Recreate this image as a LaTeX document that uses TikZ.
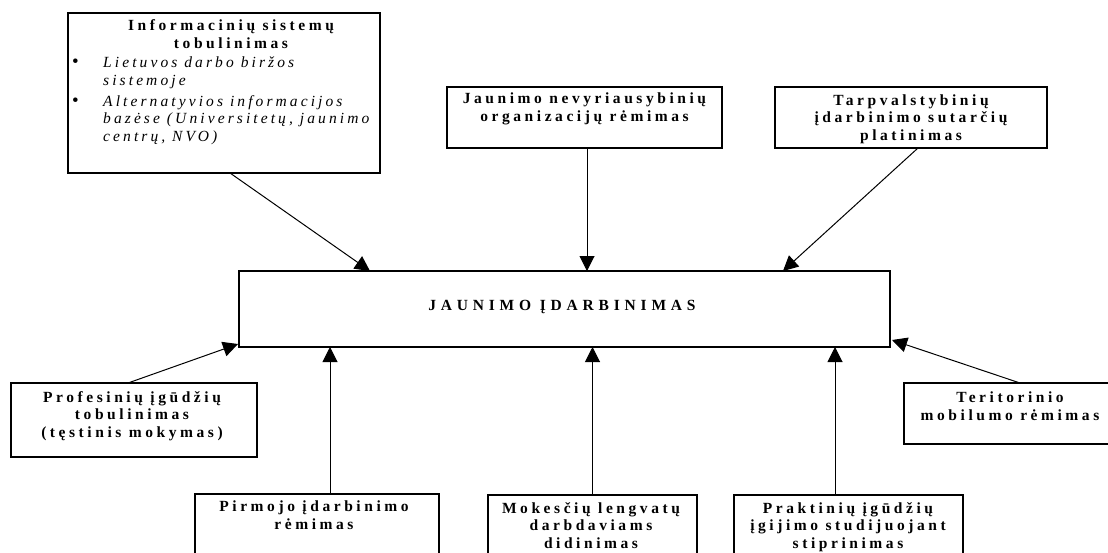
\documentclass[tikz,border=0pt]{standalone}
\usepackage{fontspec}
\setmainfont{Liberation Serif}
% letter-spaced faces used for all box texts
\newfontfamily\boxfont[LetterSpace=23]{Liberation Serif}
\newfontfamily\listfont[LetterSpace=20]{Liberation Serif}
\newfontfamily\widefont[LetterSpace=31]{Liberation Serif}
\usetikzlibrary{arrows.meta}

\begin{document}
\begin{tikzpicture}[x=1pt,y=-1pt,
  frame/.style={draw, line width=1.2pt, anchor=north west, inner sep=0pt, outer sep=0pt},
  caption/.style={anchor=base, align=center, inner sep=0pt,
    font=\boxfont\bfseries\fontsize{15.5}{17.5}\selectfont},
  link/.style={line width=1pt, -{Triangle[length=15pt,width=15pt]}},
]
\useasboundingbox (0,0) rectangle (1108,552);
\clip (0,0) rectangle (1108,552);

% frames
\node[frame, minimum width=312pt, minimum height=160pt] (info) at (68,13) {};
\node[frame, minimum width=275pt, minimum height=61pt] (ngo) at (447,87) {};
\node[frame, minimum width=272pt, minimum height=61pt] (treaty) at (775,87) {};
\node[frame, minimum width=651pt, minimum height=76pt] (main) at (239,271) {};
\node[frame, minimum width=246pt, minimum height=74pt] (prof) at (11,383) {};
\node[frame, minimum width=212pt, minimum height=61pt] (terr) at (904,383) {};
\node[frame, minimum width=244pt, minimum height=80pt] (first) at (195,494) {};
\node[frame, minimum width=209pt, minimum height=80pt] (tax) at (488,495) {};
\node[frame, minimum width=229pt, minimum height=80pt] (practice) at (734,495) {};

% texts (each placed by the baseline of its last line)
\node[caption] (infoT) at (231,48) {Informacinių sistemų\\ tobulinimas};
\node[anchor=base west, align=left, inner sep=0pt,
      font=\listfont\itshape\fontsize{15.5}{17.5}\selectfont] (infoL) at (103,141)
  {\llap{\makebox[31pt][l]{\upshape\fontsize{19}{17.5}\selectfont•}}Lietuvos darbo biržos\\
   sistemoje\\[3.5pt]
   \llap{\makebox[31pt][l]{\upshape\fontsize{19}{17.5}\selectfont•}}Alternatyvios informacijos\\
   bazėse (Universitetų, jaunimo\\
   centrų, NVO)};
\node[caption] (ngoT) at (584.5,121) {Jaunimo nevyriausybinių\\ organizacijų rėmimas};
\node[caption] (treatyT) at (911,140) {Tarpvalstybinių\\ įdarbinimo sutarčių\\ platinimas};
\node[caption, font=\widefont\bfseries\fontsize{15.5}{17.5}\selectfont] (mainT) at (562,310) {JAUNIMO ĮDARBINIMAS};
\node[caption] (profT) at (132,437) {Profesinių įgūdžių\\ tobulinimas\\ (tęstinis mokymas)};
\node[caption] (terrT) at (1010,420) {Teritorinio\\ mobilumo rėmimas};
\node[caption] (firstT) at (314,529) {Pirmojo įdarbinimo\\ rėmimas};
\node[caption] (taxT) at (591,548) {Mokesčių lengvatų\\ darbdaviams\\ didinimas};
\node[caption] (practiceT) at (848,548) {Praktinių įgūdžių\\ įgijimo studijuojant\\ stiprinimas};

% connectors into the central box
\draw[link] ([xshift=162pt]info.south west) -- ([xshift=131pt]main.north west);
\draw[link] ([xshift=2.5pt]ngo.south) -- ([xshift=2.5pt]ngo.south |- main.north);
\draw[link] ([xshift=143pt]treaty.south west) -- ([xshift=-107pt]main.north east);
\draw[link] ([xshift=117pt]prof.north west) -- ([xshift=-1pt,yshift=3pt]main.south west);
\draw[link] ([xshift=116pt]terr.north west) -- ([xshift=2pt,yshift=7pt]main.south east);
\draw[link] ([xshift=13pt]first.north) -- ([xshift=13pt]first.north |- main.south);
\draw[link] (tax.north) -- (tax.north |- main.south);
\draw[link] ([xshift=-13.5pt]practice.north) -- ([xshift=-13.5pt]practice.north |- main.south);
\end{tikzpicture}
\end{document}
